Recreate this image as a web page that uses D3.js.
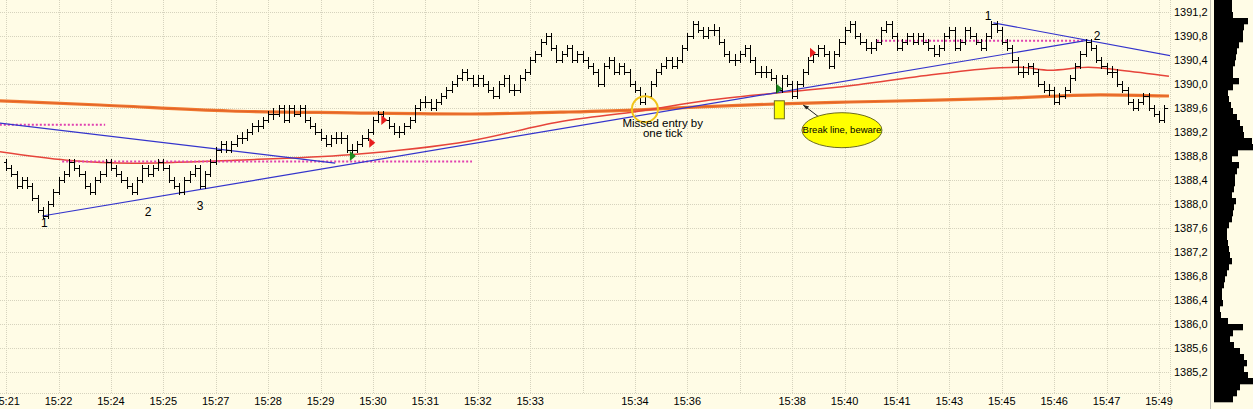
<!DOCTYPE html>
<html><head><meta charset="utf-8">
<script src="https://cdnjs.cloudflare.com/ajax/libs/d3/7.8.5/d3.min.js"></script>
<style>
html,body{margin:0;padding:0;background:#FFFCE6;}
svg{display:block;}
text{font-family:"Liberation Sans",Arial,sans-serif;}
</style></head>
<body>
<svg id="chart" width="1253" height="409"></svg>
<script>
// ---------- DATA ----------
const timeLabels = ["15:21","15:22","15:24","15:25","15:27","15:28","15:29","15:30","15:31","15:32","15:33","","15:34","15:36","","15:38","15:40","15:41","15:43","15:45","15:46","15:47","15:49"];
const priceTicks = [1391.2,1390.8,1390.4,1390.0,1389.6,1389.2,1388.8,1388.4,1388.0,1387.6,1387.2,1386.8,1386.4,1386.0,1385.6,1385.2];
const firstOpen = 1388.7;
const closes = [
1388.6,1388.5,1388.3,1388.4,1388.3,1388.1,1387.9,1387.8,1388.0,1388.2,
1388.4,1388.5,1388.7,1388.6,1388.5,1388.3,1388.2,1388.4,1388.5,1388.7,
1388.6,1388.5,1388.4,1388.3,1388.2,1388.4,1388.6,1388.5,1388.6,1388.7,
1388.6,1388.4,1388.3,1388.2,1388.4,1388.5,1388.6,1388.3,1388.5,1388.7,
1388.9,1389.0,1388.9,1389.0,1389.1,1389.1,1389.2,1389.3,1389.3,1389.4,
1389.5,1389.5,1389.6,1389.4,1389.6,1389.5,1389.6,1389.4,1389.3,1389.2,
1389.1,1389.0,1389.1,1389.1,1389.1,1388.9,1388.9,1389.0,1389.1,1389.2,
1389.4,1389.5,1389.4,1389.3,1389.2,1389.2,1389.3,1389.4,1389.6,1389.7,
1389.7,1389.6,1389.7,1389.8,1389.9,1390.0,1390.1,1390.2,1390.1,1390.0,
1390.1,1390.0,1389.9,1389.8,1390.0,1390.1,1389.9,1389.9,1390.1,1390.2,
1390.4,1390.5,1390.7,1390.8,1390.6,1390.4,1390.5,1390.6,1390.4,1390.5,
1390.4,1390.3,1390.2,1390.0,1390.3,1390.4,1390.2,1390.3,1390.2,1390.0,
1389.9,1389.7,1389.8,1390.0,1390.2,1390.3,1390.4,1390.3,1390.4,1390.6,
1390.8,1391.0,1390.9,1390.8,1390.9,1390.9,1390.7,1390.5,1390.4,1390.4,
1390.5,1390.6,1390.4,1390.2,1390.2,1390.2,1390.1,1389.9,1390.1,1390.0,
1389.8,1390.0,1390.2,1390.4,1390.5,1390.6,1390.5,1390.3,1390.5,1390.7,
1390.9,1391.0,1390.8,1390.7,1390.6,1390.6,1390.7,1390.9,1391.0,1390.8,
1390.6,1390.7,1390.8,1390.7,1390.8,1390.7,1390.6,1390.5,1390.6,1390.8,
1390.9,1390.6,1390.7,1390.9,1390.8,1390.7,1390.6,1390.8,1391.0,1390.9,
1390.7,1390.6,1390.4,1390.2,1390.2,1390.3,1390.2,1390.0,1389.9,1389.9,
1389.7,1389.8,1389.9,1390.1,1390.3,1390.5,1390.7,1390.6,1390.4,1390.3,
1390.2,1390.2,1390.0,1389.9,1389.7,1389.6,1389.7,1389.8,1389.6,1389.5,
1389.4,1389.6
];
// moving averages: [bar index, price]
const maSlow = [[-1.2,1389.72],[17.9,1389.65],[42.7,1389.55],[65.6,1389.52],[88.5,1389.50],[105.7,1389.53],[121,1389.57],[132.4,1389.62],[147.7,1389.67],[161,1389.70],[177.3,1389.73],[189.7,1389.76],[208.8,1389.82],[221.9,1389.80]];
const maFast = [[-1.2,1388.87],[11.6,1388.73],[24.2,1388.68],[43.7,1388.73],[65.6,1388.82],[88.5,1389.05],[105.7,1389.37],[121,1389.55],[133.4,1389.72],[147.1,1389.85],[161,1389.97],[178.2,1390.17],[189.7,1390.27],[193.5,1390.28],[199.2,1390.23],[206.5,1390.28],[212.6,1390.23],[221.9,1390.13]];
// trendlines
const trendLines = [
  [[-1.2,1389.35],[62.8,1388.68]],
  [[6.9,1387.80],[206.5,1390.73]],
  [[188.4,1391.02],[222.2,1390.47]]
];
const levelLines = [
  [[-1.2,1389.32],[18.9,1389.32]],
  [[10.7,1388.71],[88.9,1388.71]],
  [[166.2,1390.72],[205.9,1390.72]]
];
const signals = [
  {i:65.6,p:1388.80,type:"buy"},
  {i:69.3,p:1389.02,type:"sell"},
  {i:71.6,p:1389.40,type:"sell"},
  {i:147.0,p:1389.92,type:"buy"},
  {i:153.4,p:1390.52,type:"sell"}
];
const waveLabels = [
  {t:"1",i:7.3,p:1387.62},{t:"2",i:27.1,p:1387.80},{t:"3",i:37.0,p:1387.90},
  {t:"1",i:187.4,p:1391.06},{t:"2",i:208.2,p:1390.73}
];
// volume profile, rows of 0.1 from 1391.4 downward
const profileTop = 1391.4;
const profileVol = [18,18,19,34,30,29,29,25,23,22,21,19,19,25,19,14,15,17,19,23,26,29,30,38,39,24,18,25,23,21,21,20,18,22,20,19,18,15,13,13,14,15,16,18,15,13,11,10,8,8,9,6,7,14,29,19,16,20,26,30,33,30,34,39,26,23,19];

// ---------- SCALES ----------
const svg = d3.select("#chart");
const x = d3.scaleLinear().domain([0,220]).range([6.1,1159]);
const y = d3.scaleLinear().domain([1385.2,1391.2]).range([372,12]);
const plotRight = 1170;

// grid
const grid = svg.append("g");
grid.selectAll("line.h").data(priceTicks).join("line")
  .attr("x1",0).attr("x2",plotRight).attr("y1",d=>Math.round(y(d))+0.5).attr("y2",d=>Math.round(y(d))+0.5)
  .attr("stroke","#D6D3BE").attr("stroke-dasharray","1,1");
grid.selectAll("line.v").data(timeLabels).join("line")
  .attr("x1",(d,k)=>Math.round(x(k*10))+0.5).attr("x2",(d,k)=>Math.round(x(k*10))+0.5)
  .attr("y1",0).attr("y2",393)
  .attr("stroke","#D6D3BE").attr("stroke-dasharray","1,1");
grid.append("line").attr("x1",0).attr("x2",plotRight).attr("y1",393.5).attr("y2",393.5)
  .attr("stroke","#D6D3BE").attr("stroke-dasharray","1,1");
grid.append("line").attr("x1",plotRight+0.5).attr("x2",plotRight+0.5).attr("y1",0).attr("y2",409)
  .attr("stroke","#D6D3BE").attr("stroke-dasharray","1,1");

// clip
svg.append("clipPath").attr("id","plot").append("rect").attr("x",0).attr("y",0).attr("width",plotRight).attr("height",393);
const plot = svg.append("g").attr("clip-path","url(#plot)");

const line = d3.line().x(d=>x(d[0])).y(d=>y(d[1]));
const smooth = d3.line().x(d=>x(d[0])).y(d=>y(d[1])).curve(d3.curveMonotoneX);

// slow MA (thick orange)
plot.append("path").attr("d",smooth(maSlow)).attr("fill","none").attr("stroke","#F07A30").attr("stroke-width",3.2);
plot.append("path").attr("d",smooth(maSlow)).attr("fill","none").attr("stroke","#E2602A").attr("stroke-width",1);
// fast MA (red)
plot.append("path").attr("d",smooth(maFast)).attr("fill","none").attr("stroke","#E6443A").attr("stroke-width",1.5);

// level lines (magenta dotted)
levelLines.forEach(l=>{
  plot.append("path").attr("d",line(l)).attr("fill","none").attr("stroke","#E040B0").attr("stroke-width",2).attr("stroke-dasharray","2,2");
});
// trend lines (blue)
trendLines.forEach(l=>{
  plot.append("path").attr("d",line(l)).attr("fill","none").attr("stroke","#3434CC").attr("stroke-width",1.2);
});

// price bars
const bars = plot.append("g").attr("stroke","#000").attr("stroke-width",1).attr("fill","none").attr("shape-rendering","crispEdges");
closes.forEach((c,i)=>{
  const o = i===0 ? firstOpen : closes[i-1];
  let hi = Math.max(o,c)+0.05, lo = Math.min(o,c)-0.05;
  if (Math.abs(o-c)<0.001){hi=c+0.1;lo=c-0.1;}
  const xc = Math.round(x(i))+0.5;
  const yo = Math.round(y(o))+0.5, yc = Math.round(y(c))+0.5;
  bars.append("path").attr("d",
    `M${xc},${Math.round(y(hi))}V${Math.round(y(lo))}M${xc-2.5},${yo}H${xc}M${xc},${yc}H${xc+3}`);
});

// signal triangles
signals.forEach(s=>{
  const px = x(s.i), py = y(s.p);
  plot.append("path").attr("d",`M${px},${py-5}L${px+6},${py}L${px},${py+5}Z`)
    .attr("fill", s.type==="buy" ? "#1E8C1E" : "#E81E1E");
});

// annotation: missed entry circle
plot.append("circle").attr("cx",x(121.9)).attr("cy",y(1389.58)).attr("r",13)
  .attr("fill","none").attr("stroke","#F2C418").attr("stroke-width",2);
svg.append("text").attr("x",x(125.3)).attr("y",y(1389.29)).attr("text-anchor","middle").attr("font-size",11.5).attr("fill","#000").text("Missed entry by");
svg.append("text").attr("x",x(125.3)).attr("y",y(1389.11)).attr("text-anchor","middle").attr("font-size",11.5).attr("fill","#000").text("one tick");

// yellow rectangle
plot.append("rect").attr("x",x(146.6)).attr("y",y(1389.72)).attr("width",10).attr("height",y(1389.42)-y(1389.72))
  .attr("fill","#FFFF00").attr("stroke","#6B6B20").attr("stroke-width",1);

// arrow + ellipse
const ax1 = x(155.1), ay1 = y(1389.45), ax0 = x(152.1), ay0 = y(1389.65);
plot.append("line").attr("x1",ax1).attr("y1",ay1).attr("x2",ax0).attr("y2",ay0).attr("stroke","#202020").attr("stroke-width",1);
plot.append("path").attr("d",`M${ax0},${ay0}l6,1.5l-3,3Z`).attr("fill","#202020");
plot.append("ellipse").attr("cx",x(159.5)).attr("cy",y(1389.23)).attr("rx",40).attr("ry",17.5)
  .attr("fill","#FFFF00").attr("stroke","#6B6B20").attr("stroke-width",1);
svg.append("text").attr("x",x(159.5)).attr("y",y(1389.18)).attr("text-anchor","middle").attr("font-size",9.5).attr("fill","#000").text("Break line, beware");

// wave labels
waveLabels.forEach(w=>{
  svg.append("text").attr("x",x(w.i)).attr("y",y(w.p)).attr("text-anchor","middle").attr("font-size",12).attr("fill","#000").text(w.t);
});

// y axis labels
svg.append("g").selectAll("text").data(priceTicks).join("text")
  .attr("x",1174).attr("y",d=>y(d)+4).attr("font-size",11).attr("fill","#000")
  .text(d=>d.toFixed(1).replace(".",","));

// x axis labels
svg.append("g").selectAll("text").data(timeLabels).join("text")
  .attr("x",(d,k)=>x(k*10)).attr("y",405).attr("text-anchor","middle").attr("font-size",11).attr("fill","#000")
  .text(d=>d);

// separator & volume profile
svg.append("line").attr("x1",1210.5).attr("x2",1210.5).attr("y1",0).attr("y2",409).attr("stroke","#C8C6B8").attr("stroke-width",1);
const vx = d3.scaleLinear().domain([0,40]).range([1214,1254]);
svg.append("g").selectAll("rect").data(profileVol).join("rect")
  .attr("x",vx(0)).attr("width",d=>vx(d)-vx(0))
  .attr("y",(d,r)=>y(profileTop-0.1*r)).attr("height",(d,r)=>y(profileTop-0.1*(r+1))-y(profileTop-0.1*r)+0.3)
  .attr("fill","#000");
</script>
</body></html>
